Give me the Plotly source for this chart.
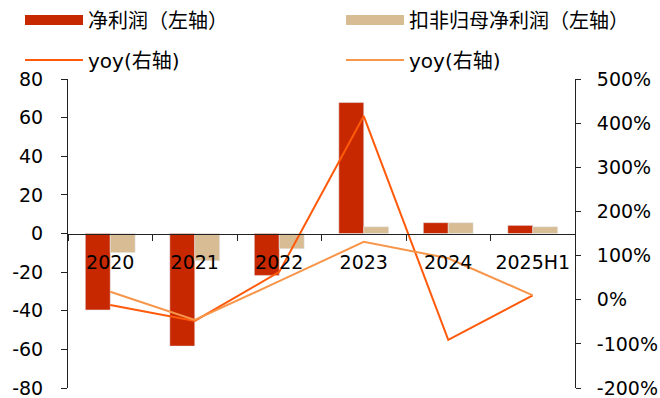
import plotly.graph_objects as go

categories = ["2020", "2021", "2022", "2023", "2024", "2025H1"]
net_profit = [-39.6, -58.3, -21.7, 67.8, 5.6, 4.2]
net_profit_deducted = [-9.9, -14.1, -7.9, 3.5, 5.6, 3.5]
yoy_net = [-12, -48, 63, 416, -91, 10]
yoy_deducted = [18, -46, 42, 131, 94, 10]
left_ticks = [-80, -60, -40, -20, 0, 20, 40, 60, 80]
right_ticks = [-200, -100, 0, 100, 200, 300, 400, 500]
series_names = ["净利润（左轴）", "扣非归母净利润（左轴）", "yoy(右轴)", "yoy(右轴)"]

FONT = "DejaVu Sans, Noto Sans CJK SC"
CJK_FONT = "Noto Sans CJK SC, DejaVu Sans"
RED = "#C82800"
TAN = "#D8BC94"
ORANGE = "#FF5A0A"
LIGHT = "#F7964A"

fig = go.Figure()
fig.add_trace(go.Bar(x=categories, y=net_profit, name=series_names[0],
                     marker=dict(color=RED), showlegend=False))
fig.add_trace(go.Bar(x=categories, y=net_profit_deducted, name=series_names[1],
                     marker=dict(color=TAN), showlegend=False))
# legend-only entries giving the bar series a wide rectangular swatch
fig.add_trace(go.Scatter(x=[None], y=[None], name=series_names[0], mode="lines",
                         line=dict(color=RED, width=14), legend="legend"))
fig.add_trace(go.Scatter(x=[None], y=[None], name=series_names[1], mode="lines",
                         line=dict(color=TAN, width=14), legend="legend2"))
fig.add_trace(go.Scatter(x=categories, y=yoy_net, name=series_names[2], mode="lines",
                         line=dict(color=ORANGE, width=2), yaxis="y2", legend="legend3"))
fig.add_trace(go.Scatter(x=categories, y=yoy_deducted, name=series_names[3], mode="lines",
                         line=dict(color=LIGHT, width=2), yaxis="y2", legend="legend4"))

axis_font = dict(family=FONT, size=19, color="black")


def legend_style(x_px, y_px, family, size):
    return dict(orientation="h", xref="container", yref="container",
                xanchor="left", yanchor="middle", x=x_px / 660, y=1 - y_px / 398,
                itemwidth=58, font=dict(family=family, size=size, color="black"),
                bgcolor="rgba(0,0,0,0)")


fig.update_layout(
    width=660, height=398,
    margin=dict(l=68, r=85, t=79, b=10, autoexpand=False),
    paper_bgcolor="white", plot_bgcolor="white",
    barmode="group", bargap=0.41, bargroupgap=0,
    showlegend=True,
    legend=legend_style(20, 20, CJK_FONT, 20),
    legend2=legend_style(341, 20, CJK_FONT, 20),
    legend3=legend_style(20, 60, FONT, 20),
    legend4=legend_style(341, 60, FONT, 20),
    xaxis=dict(anchor="free", position=0.5, showline=True, linecolor="#222", linewidth=1,
               ticks="outside", tickson="boundaries", ticklen=6, tickcolor="#222",
               tickfont=axis_font, showgrid=False, zeroline=False, tickangle=0,
               ticklabelstandoff=12, automargin=False, ticklabeloverflow="allow"),
    yaxis=dict(range=[-80, 80], tickvals=left_ticks, ticktext=[str(v) for v in left_ticks],
               showline=True, linecolor="#222", linewidth=1,
               ticks="outside", ticklen=6, tickcolor="#222", tickfont=axis_font,
               showgrid=False, zeroline=False, ticklabelstandoff=14, automargin=False,
               ticklabeloverflow="allow"),
    yaxis2=dict(range=[-200, 500], tickvals=right_ticks,
                ticktext=[f"{v}%" for v in right_ticks],
                overlaying="y", side="right", anchor="x",
                showline=True, linecolor="#222", linewidth=1, ticks="outside", ticklen=5,
                tickcolor="#222", tickfont=axis_font, showgrid=False,
                zeroline=False, ticklabelstandoff=12, automargin=False,
                ticklabeloverflow="allow"),
)

fig.write_html("out.html")
